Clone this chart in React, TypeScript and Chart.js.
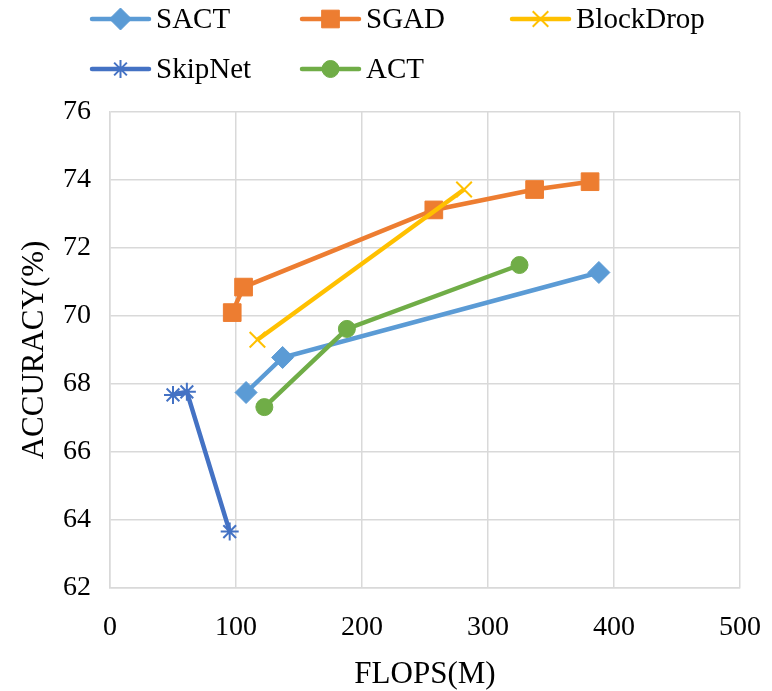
import React, { useEffect, useRef } from "react";
import { Chart, registerables } from "chart.js";
import { drawPoint } from "chart.js/helpers";

Chart.register(...registerables);

// FLOPS (M) vs. accuracy (%) for each method
const SERIES_NAMES = ["SACT", "SGAD", "BlockDrop", "SkipNet", "ACT"];
const SERIES_COLORS = ["#5B9BD5", "#ED7D31", "#FFC000", "#4472C4", "#70AD47"];

const SACT_FLOPS = [108, 137, 388];
const SACT_ACC = [67.75, 68.78, 71.28];

const SGAD_FLOPS = [97, 106, 257, 337, 381];
const SGAD_ACC = [70.1, 70.85, 73.12, 73.72, 73.95];

const BLOCKDROP_FLOPS = [117, 281];
const BLOCKDROP_ACC = [69.3, 73.72];

const SKIPNET_FLOPS = [50, 61, 95];
const SKIPNET_ACC = [67.68, 67.77, 63.66];

const ACT_FLOPS = [122.5, 188, 325];
const ACT_ACC = [67.32, 69.62, 71.5];

const X_TICKS = [0, 100, 200, 300, 400, 500];
const Y_TICKS = [62, 64, 66, 68, 70, 72, 74, 76];

const FONT = "'Liberation Serif', 'Times New Roman', serif";

const toPoints = (xs: number[], ys: number[]) => xs.map((x, i) => ({ x, y: ys[i] }));

// Legend laid out as a fixed three-column grid above the plot
const LEGEND_X0 = 92;
const LEGEND_COL_W = 210;
const LEGEND_Y0 = 19;
const LEGEND_ROW_H = 50;
const LEGEND_LINE_W = 57;

const gridLegend = {
  id: "gridLegend",
  afterDraw(chart: any) {
    const ctx: CanvasRenderingContext2D = chart.ctx;
    chart.data.datasets.forEach((ds: any, i: number) => {
      const col = i % 3;
      const row = Math.floor(i / 3);
      const x0 = LEGEND_X0 + col * LEGEND_COL_W;
      const y = LEGEND_Y0 + row * LEGEND_ROW_H;
      ctx.save();
      ctx.strokeStyle = ds.borderColor;
      ctx.lineWidth = ds.borderWidth;
      ctx.lineCap = "round";
      ctx.beginPath();
      ctx.moveTo(x0, y);
      ctx.lineTo(x0 + LEGEND_LINE_W, y);
      ctx.stroke();
      ctx.fillStyle = ds.pointBackgroundColor;
      ctx.strokeStyle = ds.pointBorderColor;
      ctx.lineWidth = ds.pointBorderWidth;
      ctx.lineCap = "butt";
      drawPoint(
        ctx,
        { pointStyle: ds.pointStyle, radius: ds.pointRadius, rotation: 0, borderWidth: ds.pointBorderWidth },
        x0 + LEGEND_LINE_W / 2,
        y
      );
      ctx.fillStyle = "#000";
      ctx.font = `29px ${FONT}`;
      ctx.textAlign = "left";
      ctx.textBaseline = "middle";
      ctx.fillText(ds.label, x0 + 64, y + 1);
      ctx.restore();
    });
  },
};

export default function App() {
  const canvasRef = useRef<HTMLCanvasElement | null>(null);

  useEffect(() => {
    const canvas = canvasRef.current;
    if (!canvas) return;

    const styles = [
      { pointStyle: "rectRot", pointRadius: 11, pointBorderWidth: 1 },
      { pointStyle: "rect", pointRadius: 12.5, pointBorderWidth: 1 },
      { pointStyle: "crossRot", pointRadius: 11, pointBorderWidth: 2 },
      { pointStyle: "star", pointRadius: 9, pointBorderWidth: 2 },
      { pointStyle: "circle", pointRadius: 8.5, pointBorderWidth: 1 },
    ];
    const dataSets = [
      toPoints(SACT_FLOPS, SACT_ACC),
      toPoints(SGAD_FLOPS, SGAD_ACC),
      toPoints(BLOCKDROP_FLOPS, BLOCKDROP_ACC),
      toPoints(SKIPNET_FLOPS, SKIPNET_ACC),
      toPoints(ACT_FLOPS, ACT_ACC),
    ];

    const chart = new Chart(canvas, {
      type: "line",
      data: {
        datasets: SERIES_NAMES.map((name, i) => ({
          label: name,
          data: dataSets[i],
          borderColor: SERIES_COLORS[i],
          backgroundColor: SERIES_COLORS[i],
          pointBackgroundColor: SERIES_COLORS[i],
          pointBorderColor: SERIES_COLORS[i],
          borderWidth: 4.5,
          pointHoverRadius: styles[i].pointRadius,
          tension: 0,
          fill: false,
          order: SERIES_NAMES.length - i,
          ...styles[i],
        })),
      },
      options: {
        responsive: false,
        animation: false,
        devicePixelRatio: 1,
        layout: { padding: { top: 112, right: 32, bottom: 0, left: 0 } },
        plugins: {
          legend: { display: false },
          tooltip: { enabled: false },
        },
        scales: {
          x: {
            type: "linear",
            min: 0,
            max: 500,
            afterBuildTicks: (scale: any) => {
              scale.ticks = X_TICKS.map((v) => ({ value: v }));
            },
            afterFit: (scale: any) => {
              scale.height = 103;
              scale.paddingLeft = 0;
              scale.paddingRight = 0;
            },
            grid: { color: "#D9D9D9", lineWidth: 1.5, drawTicks: false },
            border: { display: true, color: "#D9D9D9", width: 1.5 },
            ticks: {
              color: "#000",
              padding: 23,
              font: { family: FONT, size: 28 },
              maxRotation: 0,
            },
            title: {
              display: true,
              text: "FLOPS(M)",
              color: "#000",
              font: { family: FONT, size: 31, lineHeight: 1 },
              padding: { top: 0, bottom: 1 },
            },
          },
          y: {
            type: "linear",
            min: 62,
            max: 76,
            afterBuildTicks: (scale: any) => {
              scale.ticks = Y_TICKS.map((v) => ({ value: v }));
            },
            afterFit: (scale: any) => {
              scale.width = 110;
              scale.paddingTop = 0;
              scale.paddingBottom = 0;
            },
            grid: { color: "#D9D9D9", lineWidth: 1.5, drawTicks: false },
            border: { display: true, color: "#D9D9D9", width: 1.5 },
            ticks: {
              color: "#000",
              padding: 19,
              font: { family: FONT, size: 28 },
            },
            title: {
              display: true,
              text: "ACCURACY(%)",
              color: "#000",
              font: { family: FONT, size: 31, lineHeight: 1 },
              padding: { top: 19, bottom: 0 },
            },
          },
        },
      },
      plugins: [gridLegend],
    } as any);

    return () => chart.destroy();
  }, []);

  return (
    <div style={{ position: "fixed", left: 0, top: 0, width: 772, height: 691, background: "#fff" }}>
      <canvas ref={canvasRef} width={772} height={691} />
    </div>
  );
}
